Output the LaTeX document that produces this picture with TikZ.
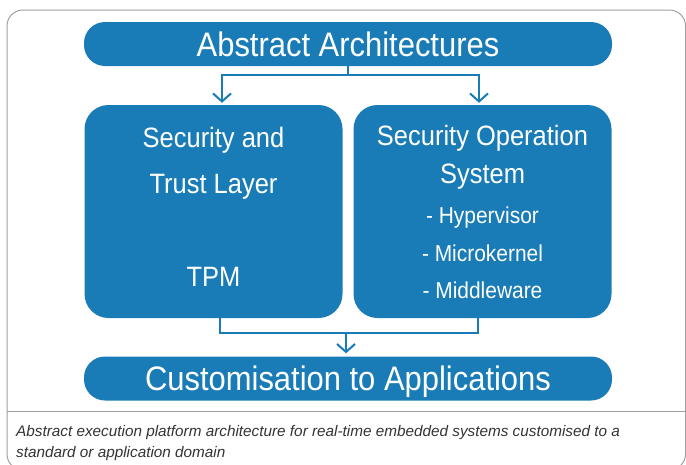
\documentclass[tikz,border=0pt]{standalone}
\usepackage{fontspec}
\setmainfont[FakeStretch=0.91]{Liberation Sans}
\newfontfamily\capfont{Liberation Sans}
\usetikzlibrary{arrows.meta, positioning}
\usepackage{xcolor}
\definecolor{archblue}{RGB}{26,124,182}
\definecolor{framegray}{RGB}{160,160,160}
\definecolor{capgray}{RGB}{51,51,51}

\begin{document}
\begin{tikzpicture}[
  x=1pt, y=-1pt,
  pill/.style={rectangle, rounded corners=21pt, fill=archblue, minimum width=528pt, minimum height=44pt, inner sep=0pt, text height=24pt, text depth=0pt, text=white, font={\fontsize{34}{40}\selectfont}},
  block/.style={rectangle, rounded corners=24pt, fill=archblue, minimum width=258pt, minimum height=213pt, inner sep=0pt},
  head/.style={anchor=base, inner sep=0pt, text=white, font={\fontsize{28}{32}\selectfont}},
  item/.style={anchor=base, inner sep=0pt, text=white, font={\fontsize{23}{27}\selectfont}},
  conn/.style={draw=archblue, line width=2pt},
  caption/.style={anchor=north west, inner sep=0pt, align=left, text=capgray, font={\capfont\itshape\fontsize{15.3}{21}\selectfont}},
  >={Straight Barb[length=8pt,width=18pt]}
]
\useasboundingbox (0,0) rectangle (686,464);

% frame and caption rule
\draw[framegray, line width=1pt, rounded corners=16pt] (7,10) rectangle (685.5,470);
\draw[framegray, line width=1pt] (7,411) -- (685.5,411);

\node[pill] (abs) at (348,44) {Abstract Architectures};
\node[block] (secl) at (213.5,211.5) {};
\node[block] (sos) at (482.5,211.5) {};
\node[pill] (cust) at (348,378.5) {Customisation to Applications};

\node[head] (seca) at (213.5,147) {Security and};
\node[head] (secb) at (213.5,193) {Trust Layer};
\node[head] (tpm) at (213.5,286) {TPM};

\node[head] (sosa) at (482.5,145) {Security Operation};
\node[head] (sosb) at (482.5,183) {System};
\node[item] (hyp) at (482.5,223) {- Hypervisor};
\node[item] (mk) at (482.5,261) {- Microkernel};
\node[item] (mw) at (482.5,298) {- Middleware};

\coordinate (split) at ([yshift=-9]abs.south);
\draw[conn] (abs.south) -- (split);
\draw[conn, ->, shorten >=2pt] (split) -| ([xshift=8.5]secl.north);
\draw[conn, ->, shorten >=2pt] (split) -| ([xshift=-3.5]sos.north);

\coordinate (merge) at ([yshift=-15]cust.north |- secl.south);
\draw[conn] ([xshift=6]secl.south) -- ++(0,15) -| ([xshift=-5]sos.south);
\draw[conn, ->, shorten >=3pt] ([xshift=-2]merge) -- ([xshift=-2]cust.north);

\node[caption] (cap) at (16,425) {Abstract execution platform architecture for real-time embedded systems customised to a\\standard or application domain};

\end{tikzpicture}
\end{document}
